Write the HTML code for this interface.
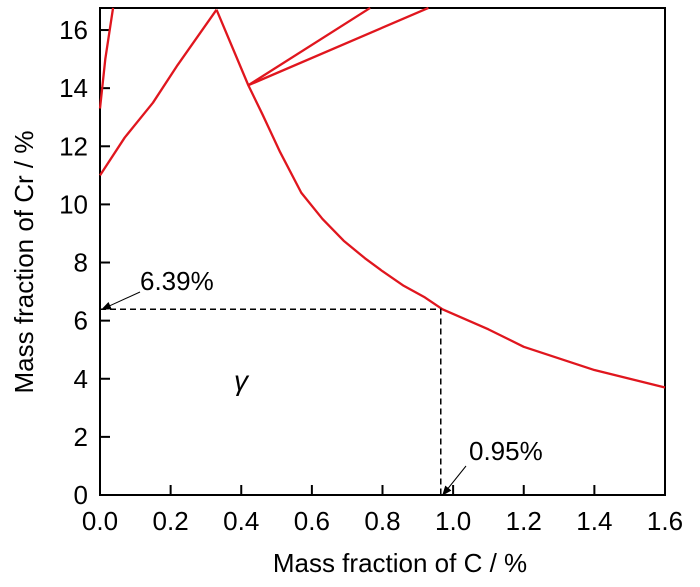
<!DOCTYPE html>
<html><head><meta charset="utf-8"><style>
body{margin:0;background:#fff}
svg text{font-family:"Liberation Sans",Arial,sans-serif;fill:#000}
</style></head><body>
<svg id="chart" width="700" height="582" viewBox="0 0 700 582" xmlns="http://www.w3.org/2000/svg">
<defs><marker id="ah" markerWidth="10" markerHeight="8" refX="9" refY="4" orient="auto"><path d="M0,0 L10,4 L0,8 Z" fill="#000"/></marker></defs>
<g id="plot"></g>
</svg>
<script>
const xTicks=[0,0.2,0.4,0.6,0.8,1.0,1.2,1.4,1.6];
const xTickLabels=["0.0","0.2","0.4","0.6","0.8","1.0","1.2","1.4","1.6"];
const yTicks=[0,2,4,6,8,10,12,14,16];
const curveA_x=[0,0.015,0.037];
const curveA_y=[13.3,15.0,16.76];
const curveB_x=[0,0.07,0.15,0.22,0.33];
const curveB_y=[11.0,12.3,13.5,14.8,16.7];
const curveC_x=[0.33,0.42,0.46,0.51,0.57,0.63,0.69,0.75,0.8,0.86,0.92,0.97,1.1,1.2,1.4,1.6];
const curveC_y=[16.7,14.1,13.1,11.8,10.4,9.5,8.75,8.15,7.7,7.2,6.8,6.39,5.7,5.1,4.3,3.7];
const curveD_x=[0.42,0.765];
const curveD_y=[14.1,16.76];
const curveE_x=[0.42,0.93];
const curveE_y=[14.1,16.76];
const markCr=6.39, markC=0.965;
const X0=100,X1=665,Y0=495,YT=8,xMax=1.6,yMax=16.76;
const sx=v=>X0+v/xMax*(X1-X0);
const sy=v=>Y0-v*29.06;
const NS="http://www.w3.org/2000/svg";
const g=document.getElementById('plot');
function mk(t,a,txt){const e=document.createElementNS(NS,t);for(const k in a)e.setAttribute(k,a[k]);if(txt!==undefined)e.textContent=txt;g.appendChild(e);return e;}
let e=mk('rect',{x:X0,y:YT,width:X1-X0,height:Y0-YT,fill:'none',stroke:'#000','stroke-width':2});


xTicks.forEach((v,i)=>{
 let t=mk('line',{x1:sx(v),x2:sx(v),y1:Y0,y2:Y0-10,stroke:'#000','stroke-width':2});
 
 
 let l=mk('text',{x:sx(v),y:Y0+35,'font-size':26,'text-anchor':'middle'},xTickLabels[i]);
 
 
});
yTicks.forEach(v=>{
 let t=mk('line',{x1:X0,x2:X0+10,y1:sy(v),y2:sy(v),stroke:'#000','stroke-width':2});
 
 
 let l=mk('text',{x:X0-12,y:sy(v)+9,'font-size':26,'text-anchor':'end'},String(v));
 
 
});
function curve(xs,ys,name){
 const p=mk('polyline',{points:xs.map((x,i)=>sx(x)+','+sy(ys[i])).join(' '),fill:'none',stroke:'#e0161e','stroke-width':2.3,'stroke-linejoin':'round'});
 
 
}
curve(curveA_x,curveA_y,'phase-boundary-a');
curve(curveB_x,curveB_y,'phase-boundary-b');
curve(curveC_x,curveC_y,'phase-boundary-c');
curve(curveD_x,curveD_y,'phase-boundary-d');
curve(curveE_x,curveE_y,'phase-boundary-e');
e=mk('polyline',{points:`${sx(0)},${sy(markCr)} ${sx(markC)},${sy(markCr)} ${sx(markC)},${sy(0)}`,fill:'none',stroke:'#000','stroke-width':1.5,'stroke-dasharray':'6,4'});


e=mk('line',{x1:140,y1:292,x2:sx(0)+2,y2:sy(markCr),stroke:'#000','stroke-width':1,'marker-end':'url(#ah)'});


e=mk('text',{x:140,y:290,'font-size':26},'6.39%');


e=mk('line',{x1:466,y1:466,x2:sx(markC)+2,y2:sy(0),stroke:'#000','stroke-width':1,'marker-end':'url(#ah)'});


e=mk('text',{x:469,y:460,'font-size':26},'0.95%');


e=mk('text',{x:234,y:390,'font-size':28,'font-style':'italic','font-family':'Liberation Serif,serif'},'γ');


e=mk('text',{x:400,y:572,'font-size':26,'text-anchor':'middle'},'Mass fraction of C / %');


e=mk('text',{x:0,y:0,'font-size':26,'text-anchor':'middle',transform:'translate(33,262) rotate(-90)'},'Mass fraction of Cr / %');


</script>
</body></html>
